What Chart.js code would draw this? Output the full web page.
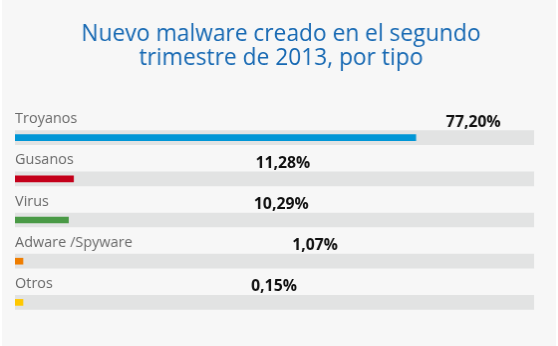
<!DOCTYPE html>
<html>
<head>
<meta charset="utf-8">
<script src="https://cdn.jsdelivr.net/npm/chart.js@4"></script>
<style>
  html, body { margin: 0; padding: 0; background: #ffffff; }
  #malwareChart { display: block; background: #f7f7f7; border-left: 2px solid #ffffff; }
</style>
</head>
<body>
<canvas id="malwareChart" width="556" height="346"></canvas>
<script>
// Tipos de malware
var tipos = ["Troyanos", "Gusanos", "Virus", "Adware /Spyware", "Otros"];
// Porcentaje del nuevo malware
var porcentajes = [77.20, 11.28, 10.29, 1.07, 0.15];
// Fondo gris de cada barra (escala completa)
var escalaCompleta = [100, 100, 100, 100, 100];
var colores = ["#0096d6", "#c4001a", "#4a9a46", "#ef7d00", "#ffc800"];

var titulo = ["Nuevo malware creado en el segundo", "trimestre de 2013, por tipo"];

// draws title, category names and the value labels
var textos = {
  id: 'textos',
  afterDatasetsDraw: function(chart, args, opts) {
    var ctx = chart.ctx;
    var x = chart.scales.x;
    var meta = chart.getDatasetMeta(1);
    ctx.save();
    ctx.textBaseline = 'alphabetic';

    ctx.fillStyle = '#1769b3';
    ctx.font = '22.8px "Open Sans"';
    ctx.textAlign = 'center';
    ctx.fillText(titulo[0], 280, 40.5);
    ctx.fillText(titulo[1], 280, 65);

    for (var i = 0; i < tipos.length; i++) {
      var y = meta.data[i].y;
      ctx.textAlign = 'left';
      ctx.fillStyle = '#6a6a6a';
      ctx.font = '14.5px "Open Sans"';
      ctx.fillText(tipos[i], chart.chartArea.left, y - 14.5);

      ctx.textAlign = 'center';
      ctx.fillStyle = '#111111';
      ctx.font = 'bold 15.8px "Open Sans"';
      var txt = porcentajes[i].toFixed(2).replace('.', ',') + '%';
      ctx.fillText(txt, x.getPixelForValue(opts.labelPos[i]), y - 11);
    }
    ctx.restore();
  }
};

var ctx = document.getElementById("malwareChart");
var myChart = new Chart(ctx, {
  type: 'bar',
  data: {
    labels: tipos,
    datasets: [
      {
        data: escalaCompleta,
        backgroundColor: "#e2e3e3",
        barThickness: 14,
        order: 2
      },
      {
        data: porcentajes,
        backgroundColor: colores,
        barThickness: 6,
        minBarLength: 8,
        order: 1
      }
    ]
  },
  options: {
    indexAxis: 'y',
    responsive: false,
    animation: false,
    layout: { padding: { left: 13, right: 22, top: 117, bottom: 23 } },
    datasets: { bar: { grouped: false, borderWidth: 0 } },
    scales: {
      x: { display: false, min: 0, max: 100 },
      y: { display: false }
    },
    plugins: {
      legend: { display: false },
      tooltip: { enabled: false },
      textos: { labelPos: [88.3, 51.6, 51.3, 57.8, 49.9] }
    }
  },
  plugins: [textos]
});
</script>
</body>
</html>
